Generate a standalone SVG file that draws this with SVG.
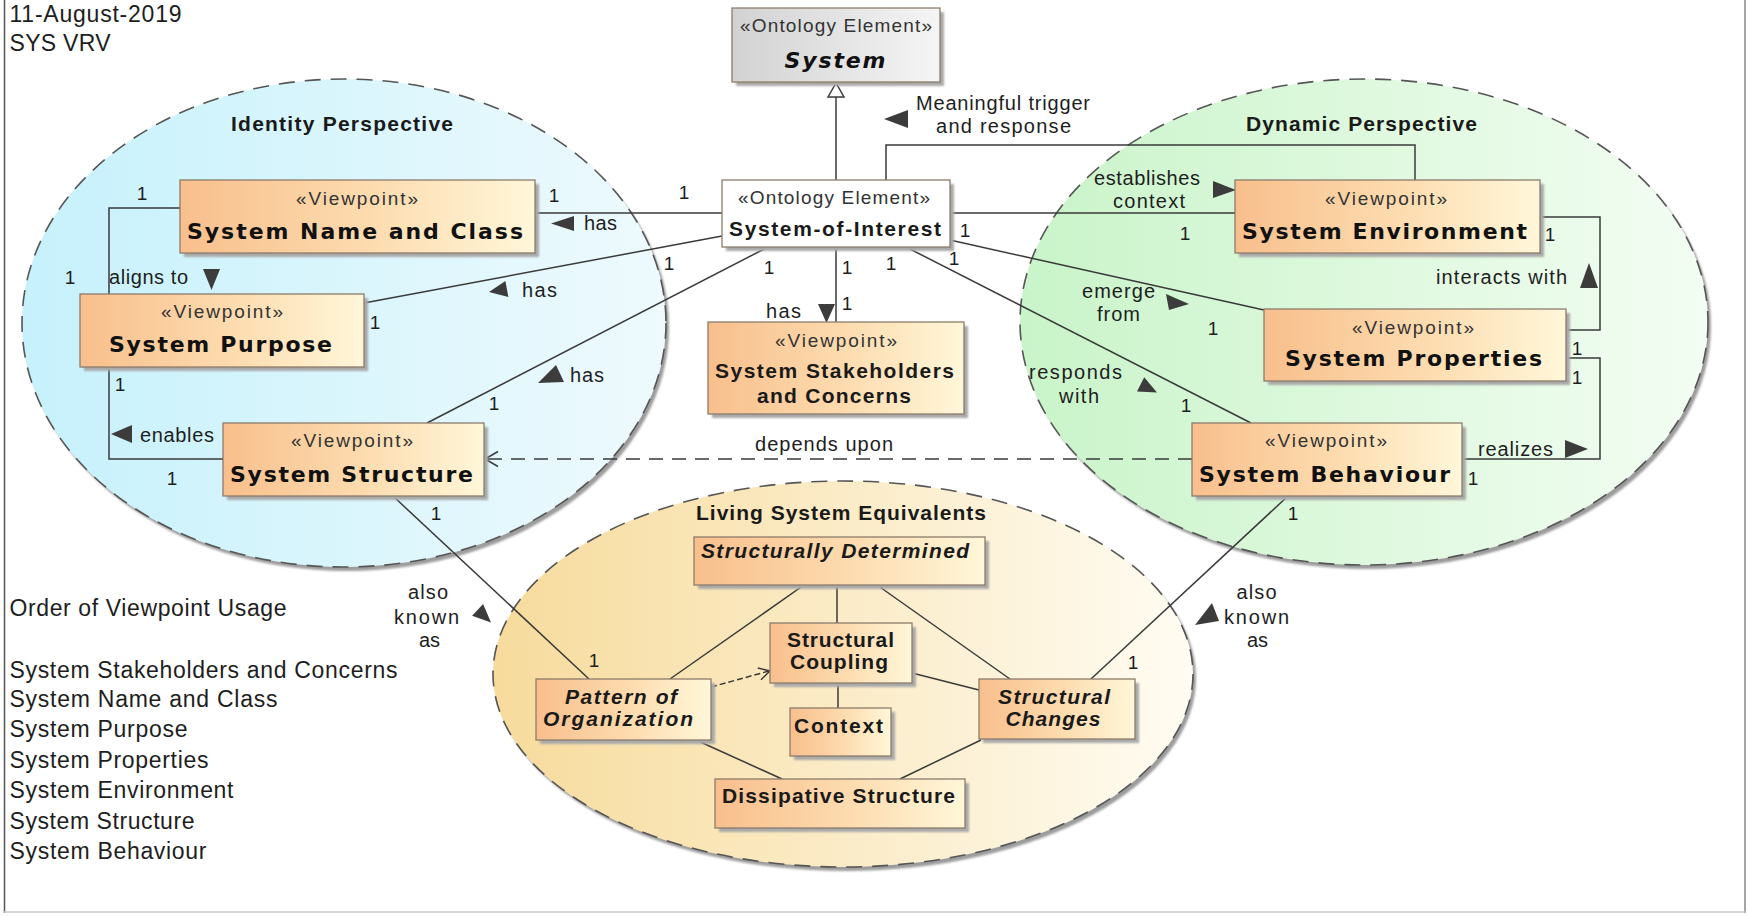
<svg xmlns="http://www.w3.org/2000/svg" width="1750" height="916" viewBox="0 0 1750 916">
  <defs>
    <linearGradient id="gNode" x1="0" y1="0" x2="1" y2="0">
      <stop offset="0" stop-color="#f8bf8c"/>
      <stop offset="0.55" stop-color="#fddcb0"/>
      <stop offset="1" stop-color="#fff7d9"/>
    </linearGradient>
    <linearGradient id="gGray" x1="0" y1="0" x2="1" y2="0">
      <stop offset="0" stop-color="#d2d2d2"/>
      <stop offset="1" stop-color="#f5f5f5"/>
    </linearGradient>
    <linearGradient id="gBlue" x1="0" y1="0" x2="1" y2="0">
      <stop offset="0" stop-color="#c6f1fc"/>
      <stop offset="1" stop-color="#eefafd"/>
    </linearGradient>
    <linearGradient id="gGreen" x1="0" y1="0" x2="1" y2="0">
      <stop offset="0" stop-color="#c9f4c9"/>
      <stop offset="1" stop-color="#f3fdf3"/>
    </linearGradient>
    <linearGradient id="gYellow" x1="0" y1="0" x2="1" y2="0">
      <stop offset="0" stop-color="#f7db9c"/>
      <stop offset="1" stop-color="#fffcf2"/>
    </linearGradient>
    <filter id="soft" x="-5%" y="-5%" width="110%" height="110%">
      <feGaussianBlur stdDeviation="1.2"/>
    </filter>
    <style>
      .frame { stroke: #555; stroke-width: 1.5; fill: none; }
      .zone { stroke: #555; stroke-width: 1.6; stroke-dasharray: 16 10; }
      .zshadow { fill: #9c9c9c; filter: url(#soft); }
      .box { stroke: #8c7c6c; stroke-width: 1.3; }
      .bshadow { fill: #a9a9a9; filter: url(#soft); }
      .ln { stroke: #3a3a3a; stroke-width: 1.5; fill: none; }
      .dash { stroke-dasharray: 14 9; }
      .dash2 { stroke-dasharray: 6 3; }
      .tri { fill: #3c3c3c; }
      .hollow { fill: #fff; stroke: #3a3a3a; stroke-width: 1.5; }
      text { font-family: "Liberation Sans", Arial, sans-serif; fill: #1e1e1e; }
      .st { font-size: 19px; fill: #333; text-anchor: middle; }
      .vp { font-family: "DejaVu Sans", Verdana, sans-serif; font-weight: bold; font-size: 22px; fill: #111; text-anchor: middle; }
      .vpi { font-family: "DejaVu Sans", Verdana, sans-serif; font-weight: bold; font-style: italic; font-size: 22px; fill: #111; text-anchor: middle; }
      .b { font-weight: bold; font-size: 21px; fill: #1a1a1a; text-anchor: middle; }
      .bi { font-weight: bold; font-style: italic; font-size: 21px; fill: #1a1a1a; text-anchor: middle; }
      .lbl { font-size: 20px; }
      .mid { text-anchor: middle; }
      .one { font-size: 19px; text-anchor: middle; }
      .big { font-size: 23px; }
    </style>
  </defs>

  <rect width="1750" height="916" fill="#fff"/>

  <!-- diagram frame -->
  <line class="frame" x1="4.5" y1="0" x2="4.5" y2="913"/>
  <line x1="1745" y1="0" x2="1745" y2="913" stroke="#888" stroke-width="1.5"/>
  <line x1="4" y1="912" x2="1745" y2="912" stroke="#c8c8c8" stroke-width="1.5"/>

  <!-- header and notes -->
  <g id="header">
    <text class="big" x="9.5" y="21.5" textLength="172">11-August-2019</text>
    <text class="big" x="9.5" y="51" textLength="101">SYS VRV</text>
  </g>
  <g id="usage-note">
    <text class="big" x="9.5" y="616" textLength="277">Order of Viewpoint Usage</text>
    <text class="big" x="9.5" y="678" textLength="388">System Stakeholders and Concerns</text>
    <text class="big" x="9.5" y="707" textLength="268">System Name and Class</text>
    <text class="big" x="9.5" y="737" textLength="178">System Purpose</text>
    <text class="big" x="9.5" y="768" textLength="199">System Properties</text>
    <text class="big" x="9.5" y="798" textLength="224">System Environment</text>
    <text class="big" x="9.5" y="829" textLength="185">System Structure</text>
    <text class="big" x="9.5" y="859" textLength="197">System Behaviour</text>
  </g>

  <!-- perspective zones -->
  <g id="identity-perspective">
    <ellipse class="zshadow" cx="347" cy="327" rx="322" ry="244"/>
    <ellipse class="zone" cx="344" cy="323" rx="322" ry="244" fill="url(#gBlue)"/>
    <text class="b" x="342" y="131" textLength="222">Identity Perspective</text>
  </g>
  <g id="dynamic-perspective">
    <ellipse class="zshadow" cx="1367" cy="326" rx="344" ry="243"/>
    <ellipse class="zone" cx="1364" cy="322" rx="344" ry="243" fill="url(#gGreen)"/>
    <text class="b" x="1361.5" y="131" textLength="231">Dynamic Perspective</text>
  </g>
  <g id="living-system-equivalents">
    <ellipse class="zshadow" cx="846" cy="678" rx="350" ry="193"/>
    <ellipse class="zone" cx="843" cy="674" rx="350" ry="193" fill="url(#gYellow)"/>
    <text class="b" x="841" y="520" textLength="290">Living System Equivalents</text>
  </g>

  <!-- connectors -->
  <g id="connectors">
    <!-- generalization -->
    <line class="ln" x1="836" y1="180" x2="836" y2="97"/>
    <polygon class="hollow" points="836,83 828,97 844,97"/>

    <!-- has: name and class -->
    <line class="ln" x1="722" y1="213" x2="535" y2="213"/>
    <polygon class="tri" points="551,223.5 574,216 574,231"/>
    <text class="lbl" x="584" y="230" textLength="33">has</text>

    <!-- has: purpose -->
    <line class="ln" x1="722" y1="236" x2="364" y2="303"/>
    <polygon class="tri" points="489,292 505.4,281 508.4,297"/>
    <text class="lbl" x="522" y="297" textLength="35">has</text>

    <!-- has: structure -->
    <line class="ln" x1="768" y1="247" x2="427" y2="423"/>
    <polygon class="tri" points="556,365 538,383 564,382"/>
    <text class="lbl" x="570" y="382" textLength="34">has</text>

    <!-- has: stakeholders -->
    <line class="ln" x1="836" y1="247" x2="836" y2="322"/>
    <polygon class="tri" points="818,304 835,304 826.5,323"/>
    <text class="lbl" x="766" y="318" textLength="35">has</text>

    <!-- meaningful trigger and response -->
    <polyline class="ln" points="886,180 886,145 1415,145 1415,180"/>
    <polygon class="tri" points="884,119 908,110 908,128"/>
    <text class="lbl mid" x="1003" y="110" textLength="174">Meaningful trigger</text>
    <text class="lbl mid" x="1003.5" y="133" textLength="135">and response</text>

    <!-- establishes context -->
    <line class="ln" x1="950" y1="213" x2="1235" y2="213"/>
    <polygon class="tri" points="1213,181 1213,198 1236,190"/>
    <text class="lbl mid" x="1147" y="185" textLength="106">establishes</text>
    <text class="lbl mid" x="1149" y="208" textLength="72">context</text>

    <!-- emerge from -->
    <line class="ln" x1="950" y1="240" x2="1264" y2="310"/>
    <polygon class="tri" points="1166,294 1189,304 1169,310"/>
    <text class="lbl mid" x="1118.5" y="298" textLength="73">emerge</text>
    <text class="lbl mid" x="1118.5" y="321" textLength="43">from</text>

    <!-- responds with -->
    <line class="ln" x1="906" y1="247" x2="1251" y2="423"/>
    <polygon class="tri" points="1157,392.5 1137,391.4 1144.2,377.2"/>
    <text class="lbl mid" x="1075.5" y="379" textLength="93">responds</text>
    <text class="lbl mid" x="1079" y="403" textLength="40">with</text>

    <!-- interacts with -->
    <polyline class="ln" points="1540,217 1600,217 1600,330 1566,330"/>
    <polygon class="tri" points="1589,263 1580,288 1598,288"/>
    <text class="lbl" x="1436" y="284" textLength="131">interacts with</text>

    <!-- realizes -->
    <polyline class="ln" points="1462,459 1600,459 1600,358 1566,358"/>
    <polygon class="tri" points="1565,440 1565,458 1588,449"/>
    <text class="lbl" x="1478" y="456" textLength="75">realizes</text>

    <!-- depends upon -->
    <line class="ln dash" x1="1192" y1="459" x2="486" y2="459"/>
    <polyline class="ln" points="498,451.5 485,459 498,466.5"/>
    <text class="lbl" x="755" y="451" textLength="138">depends upon</text>

    <!-- aligns to -->
    <polyline class="ln" points="180,208 109,208 109,294"/>
    <polygon class="tri" points="203,269 220,269 211.5,290"/>
    <text class="lbl" x="109" y="284" textLength="79">aligns to</text>

    <!-- enables -->
    <polyline class="ln" points="109,367 109,459 223,459"/>
    <polygon class="tri" points="111,434 132,425 132,443"/>
    <text class="lbl" x="140" y="442" textLength="74">enables</text>

    <!-- also known as (structure) -->
    <line class="ln" x1="394" y1="497" x2="589" y2="679"/>
    <polygon class="tri" points="491,622.5 472.1,615.7 483.1,604.1"/>
    <text class="lbl mid" x="428" y="599" textLength="40">also</text>
    <text class="lbl mid" x="426.5" y="624" textLength="65">known</text>
    <text class="lbl mid" x="429.5" y="647" textLength="21">as</text>

    <!-- also known as (behaviour) -->
    <line class="ln" x1="1288" y1="496" x2="1091" y2="679"/>
    <polygon class="tri" points="1212,603 1219,621 1195,625"/>
    <text class="lbl mid" x="1256.5" y="599" textLength="40">also</text>
    <text class="lbl mid" x="1256.5" y="624" textLength="65">known</text>
    <text class="lbl mid" x="1257.5" y="647" textLength="21">as</text>

    <!-- living system relations -->
    <line class="ln" x1="804" y1="585" x2="670" y2="679"/>
    <line class="ln" x1="837" y1="585" x2="837" y2="623"/>
    <line class="ln" x1="877" y1="585" x2="1010" y2="679"/>
    <line class="ln dash2" x1="711" y1="687" x2="769" y2="671"/>
    <polyline class="ln" points="757.8,668.1 770,671 761,679.7"/>
    <line class="ln" x1="838" y1="683" x2="838" y2="708"/>
    <line class="ln" x1="912" y1="673" x2="979" y2="690"/>
    <line class="ln" x1="696" y1="740" x2="782" y2="779"/>
    <line class="ln" x1="981" y1="740" x2="900" y2="779"/>

    <!-- multiplicities -->
    <text class="one" x="142" y="200">1</text>
    <text class="one" x="70" y="284">1</text>
    <text class="one" x="554" y="202">1</text>
    <text class="one" x="684" y="199">1</text>
    <text class="one" x="669" y="270">1</text>
    <text class="one" x="769" y="274">1</text>
    <text class="one" x="847" y="274">1</text>
    <text class="one" x="891" y="270">1</text>
    <text class="one" x="954" y="265">1</text>
    <text class="one" x="847" y="310">1</text>
    <text class="one" x="965" y="237">1</text>
    <text class="one" x="1185" y="240">1</text>
    <text class="one" x="1213" y="335">1</text>
    <text class="one" x="1186" y="412">1</text>
    <text class="one" x="1550" y="241">1</text>
    <text class="one" x="1577" y="355">1</text>
    <text class="one" x="1577" y="384">1</text>
    <text class="one" x="1473" y="485">1</text>
    <text class="one" x="120" y="391">1</text>
    <text class="one" x="172" y="485">1</text>
    <text class="one" x="375" y="329">1</text>
    <text class="one" x="494" y="410">1</text>
    <text class="one" x="436" y="520">1</text>
    <text class="one" x="594" y="667">1</text>
    <text class="one" x="1293" y="520">1</text>
    <text class="one" x="1133" y="669">1</text>
  </g>

  <!-- ontology elements -->
  <g id="system">
    <rect class="bshadow" x="736" y="12" width="208" height="74"/>
    <rect class="box" x="732" y="8" width="208" height="74" fill="url(#gGray)"/>
    <text class="st" x="836" y="32" textLength="192">«Ontology Element»</text>
    <text class="vpi" x="835" y="68" textLength="101">System</text>
  </g>
  <g id="system-of-interest">
    <rect class="bshadow" x="726" y="184" width="228" height="67"/>
    <rect class="box" x="722" y="180" width="228" height="67" fill="#fff"/>
    <text class="st" x="834" y="204" textLength="192">«Ontology Element»</text>
    <text class="b" x="835" y="236" font-size="22" textLength="212">System-of-Interest</text>
  </g>

  <!-- viewpoints -->
  <g id="system-name-and-class">
    <rect class="bshadow" x="184" y="184" width="355" height="73"/>
    <rect class="box" x="180" y="180" width="355" height="73" fill="url(#gNode)"/>
    <text class="st" x="357" y="205" textLength="122">«Viewpoint»</text>
    <text class="vp" x="355" y="239" textLength="336">System Name and Class</text>
  </g>
  <g id="system-purpose">
    <rect class="bshadow" x="84" y="298" width="284" height="73"/>
    <rect class="box" x="80" y="294" width="284" height="73" fill="url(#gNode)"/>
    <text class="st" x="222" y="318" textLength="122">«Viewpoint»</text>
    <text class="vp" x="220.5" y="352" textLength="223">System Purpose</text>
  </g>
  <g id="system-structure">
    <rect class="bshadow" x="227" y="427" width="261" height="73"/>
    <rect class="box" x="223" y="423" width="261" height="73" fill="url(#gNode)"/>
    <text class="st" x="352" y="447" textLength="122">«Viewpoint»</text>
    <text class="vp" x="351.5" y="482" textLength="243">System Structure</text>
  </g>
  <g id="system-stakeholders-and-concerns">
    <rect class="bshadow" x="712" y="326" width="256" height="92"/>
    <rect class="box" x="708" y="322" width="256" height="92" fill="url(#gNode)"/>
    <text class="st" x="836" y="347" textLength="122">«Viewpoint»</text>
    <text class="b" x="834.5" y="378" textLength="239">System Stakeholders</text>
    <text class="b" x="834" y="403" textLength="154">and Concerns</text>
  </g>
  <g id="system-environment">
    <rect class="bshadow" x="1239" y="184" width="305" height="73"/>
    <rect class="box" x="1235" y="180" width="305" height="73" fill="url(#gNode)"/>
    <text class="st" x="1386" y="205" textLength="122">«Viewpoint»</text>
    <text class="vp" x="1384.5" y="239" textLength="285">System Environment</text>
  </g>
  <g id="system-properties">
    <rect class="bshadow" x="1268" y="313" width="302" height="72"/>
    <rect class="box" x="1264" y="309" width="302" height="72" fill="url(#gNode)"/>
    <text class="st" x="1413" y="334" textLength="122">«Viewpoint»</text>
    <text class="vp" x="1413.5" y="366" textLength="257">System Properties</text>
  </g>
  <g id="system-behaviour">
    <rect class="bshadow" x="1196" y="427" width="270" height="73"/>
    <rect class="box" x="1192" y="423" width="270" height="73" fill="url(#gNode)"/>
    <text class="st" x="1326" y="447" textLength="122">«Viewpoint»</text>
    <text class="vp" x="1324.5" y="482" textLength="251">System Behaviour</text>
  </g>

  <!-- living system equivalents -->
  <g id="structurally-determined">
    <rect class="bshadow" x="698" y="541" width="291" height="48"/>
    <rect class="box" x="694" y="537" width="291" height="48" fill="url(#gNode)"/>
    <text class="bi" x="835" y="558" textLength="268">Structurally Determined</text>
  </g>
  <g id="structural-coupling">
    <rect class="bshadow" x="774" y="627" width="142" height="60"/>
    <rect class="box" x="770" y="623" width="142" height="60" fill="url(#gNode)"/>
    <text class="b" x="840.5" y="647" textLength="107">Structural</text>
    <text class="b" x="839" y="669" textLength="98">Coupling</text>
  </g>
  <g id="context">
    <rect class="bshadow" x="794" y="712" width="101" height="48"/>
    <rect class="box" x="790" y="708" width="101" height="48" fill="url(#gNode)"/>
    <text class="b" x="838.5" y="733" textLength="89">Context</text>
  </g>
  <g id="pattern-of-organization">
    <rect class="bshadow" x="540" y="683" width="175" height="61"/>
    <rect class="box" x="536" y="679" width="175" height="61" fill="url(#gNode)"/>
    <text class="bi" x="621" y="704" textLength="112">Pattern of</text>
    <text class="bi" x="618" y="726" textLength="150">Organization</text>
  </g>
  <g id="structural-changes">
    <rect class="bshadow" x="983" y="683" width="156" height="60"/>
    <rect class="box" x="979" y="679" width="156" height="60" fill="url(#gNode)"/>
    <text class="bi" x="1054" y="704" textLength="112">Structural</text>
    <text class="bi" x="1053" y="726" textLength="95">Changes</text>
  </g>
  <g id="dissipative-structure">
    <rect class="bshadow" x="719" y="783" width="250" height="49"/>
    <rect class="box" x="715" y="779" width="250" height="49" fill="url(#gNode)"/>
    <text class="b" x="838.5" y="803" textLength="233">Dissipative Structure</text>
  </g>
</svg>
